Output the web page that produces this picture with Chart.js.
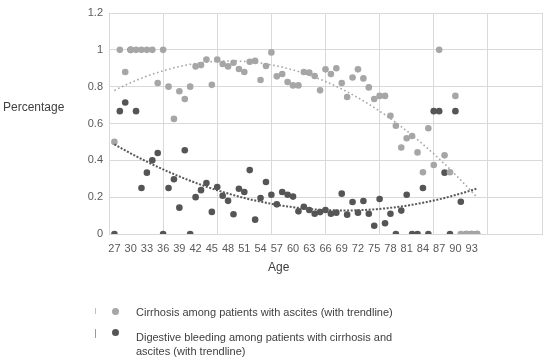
<!DOCTYPE html>
<html><head><meta charset="utf-8">
<script src="https://cdn.jsdelivr.net/npm/chart.js@4.4.1/dist/chart.umd.min.js"></script>
<style>
html,body{margin:0;padding:0;background:#fff;}
#wrap{position:relative;width:550px;height:362px;overflow:hidden;font-family:'Liberation Sans',Arial,sans-serif;}
canvas{position:absolute;left:0;top:0;}
.t{position:absolute;color:#404040;white-space:nowrap;line-height:14px;}
.dot{position:absolute;width:7px;height:7px;border-radius:50%;}
.bar{position:absolute;width:1px;}
</style></head><body>
<div id="wrap">
<canvas id="c" width="550" height="362"></canvas>
<div class="t" style="left:3px;top:100px;font-size:12px;">Percentage</div>
<div class="t" style="left:268px;top:260px;font-size:12px;">Age</div>
<div class="bar" style="left:95px;top:308px;height:6px;background:#bfbfbf;"></div>
<div class="dot" style="left:112px;top:308px;background:#a6a6a6;"></div>
<div class="t" style="left:136px;top:305px;font-size:11px;">Cirrhosis among patients with ascites (with trendline)</div>
<div class="bar" style="left:95px;top:329px;height:9px;background:#9a9a9a;"></div>
<div class="dot" style="left:112px;top:329px;background:#555555;"></div>
<div class="t" style="left:136px;top:330px;font-size:11px;white-space:normal;width:280px;">Digestive bleeding among patients with cirrhosis and ascites (with trendline)</div>
</div>
<script>
const ages = [27,28,29,30,31,32,33,34,35,36,37,38,39,40,41,42,43,44,45,46,47,48,49,50,51,52,53,54,55,56,57,58,59,60,61,62,63,64,65,66,67,68,69,70,71,72,73,74,75,76,77,78,79,80,81,82,83,84,85,86,87,88,89,90,91,92,93,94];
const cirrhosis = [0.5,1.0,0.88,1.0,1.0,1.0,1.0,1.0,0.82,1.0,0.80,0.625,0.775,0.733,0.80,0.91,0.917,0.947,0.81,0.947,0.923,0.91,0.93,0.896,0.88,0.935,0.94,0.836,0.912,0.986,0.856,0.869,0.825,0.807,0.807,0.88,0.876,0.858,0.78,0.894,0.869,0.90,0.82,0.744,0.85,0.894,0.845,0.796,0.733,0.75,0.75,0.642,0.588,0.47,0.52,0.532,0.443,0.335,0.574,0.375,1.0,0.427,0.335,0.75,0,0,0,0];
// points at 30 and 92-94 sit underneath the grey markers (grey is drawn on top)
const bleeding = [0,0.667,0.714,1.0,0.667,0.25,0.333,0.4,0.44,0,0.25,0.297,0.143,0.455,0,0.2,0.238,0.277,0.12,0.255,0.208,0.18,0.107,0.246,0.228,0.347,0.078,0.195,0.282,0.213,0.161,0.228,0.213,0.203,0.123,0.148,0.13,0.11,0.119,0.13,0.11,0.116,0.219,0.105,0.174,0.116,0.179,0.11,0.045,0.19,0.058,0.11,0,0.127,0.213,0,0,0.25,0,0.667,0.667,0.333,0,0.667,0.175,0,0,0];
const xTickLabels = ['27','30','33','36','39','42','45','48','51','54','57','60','63','66','69','72','75','78','81','84','87','90','93'];
const yTickLabels = ['0','0.2','0.4','0.6','0.8','1','1.2'];

function pts(vals){ return ages.map((a,i)=>({x:a,y:vals[i]})).filter(p=>p.y!==null); }
// least-squares quadratic trendline (as in the spreadsheet's polynomial trendline)
function quadFit(p){
  let S=[0,0,0,0,0],T=[0,0,0];
  p.forEach(({x,y})=>{let xp=1;for(let k=0;k<5;k++){S[k]+=xp; if(k<3)T[k]+=xp*y; xp*=x;}});
  const A=[[S[0],S[1],S[2],T[0]],[S[1],S[2],S[3],T[1]],[S[2],S[3],S[4],T[2]]];
  for(let i=0;i<3;i++){for(let j=i+1;j<3;j++){const f=A[j][i]/A[i][i];for(let k=i;k<4;k++)A[j][k]-=f*A[i][k];}}
  const c=[0,0,0];
  for(let i=2;i>=0;i--){let s=A[i][3];for(let k=i+1;k<3;k++)s-=A[i][k]*c[k];c[i]=s/A[i][i];}
  return x=>c[0]+c[1]*x+c[2]*x*x;
}
function trend(p){
  const f=quadFit(p); const out=[];
  const x0=ages[0], x1=ages[ages.length-1];
  for(let x=x0;x<=x1+1e-9;x+=0.5) out.push({x:x,y:f(x)});
  return out;
}
const cirrPts=pts(cirrhosis), bleedPts=pts(bleeding);

new Chart(document.getElementById('c'),{
  type:'scatter',
  data:{datasets:[
    {label:'trend2',data:trend(bleedPts),showLine:true,pointRadius:0,borderColor:'#595959',borderWidth:2,borderDash:[2,1.6],order:0},
    {label:'trend1',data:trend(cirrPts),showLine:true,pointRadius:0,borderColor:'#a6a6a6',borderWidth:1.6,borderDash:[1.6,2.6],order:1},
    {label:'Cirrhosis among patients with ascites (with trendline)',data:cirrPts,pointRadius:3.3,pointBackgroundColor:'#a6a6a6',pointBorderWidth:0,borderColor:'#a6a6a6',order:2},
    {label:'Digestive bleeding among patients with cirrhosis and ascites (with trendline)',data:bleedPts,pointRadius:3.3,pointBackgroundColor:'#555555',pointBorderWidth:0,borderColor:'#555555',order:3}
  ]},
  options:{
    responsive:false,animation:false,
    layout:{padding:{top:13,right:8,left:0,bottom:0}},
    plugins:{legend:{display:false},tooltip:{enabled:false}},
    scales:{
      x:{type:'linear',min:26,max:106,
        afterBuildTicks:s=>{const t=[];for(let v=26;v<=106;v++)t.push({value:v});s.ticks=t;},
        afterFit:s=>{s.height=128;},
        grid:{drawTicks:false,color:c=>(c.tick&&((c.tick.value-26)%10===0))?'#d9d9d9':'rgba(0,0,0,0)',lineWidth:1},
        border:{color:'#d9d9d9'},
        ticks:{autoSkip:false,maxRotation:0,minRotation:0,padding:8,color:'#595959',font:{family:"'Liberation Sans',Arial,sans-serif",size:11},
          callback:v=>{const i=(v-27)/3; return (Number.isInteger(i)&&i>=0&&i<xTickLabels.length)?xTickLabels[i]:'';}}
      },
      y:{min:0,max:1.2,
        afterFit:s=>{s.width=109;},
        grid:{drawTicks:false,color:'#d9d9d9'},
        border:{color:'#d9d9d9'},
        ticks:{stepSize:0.2,padding:6,color:'#595959',font:{family:"'Liberation Sans',Arial,sans-serif",size:11},
          callback:v=>yTickLabels[Math.round(v*5)]}
      }
    }
  }
});
</script>
</body></html>
